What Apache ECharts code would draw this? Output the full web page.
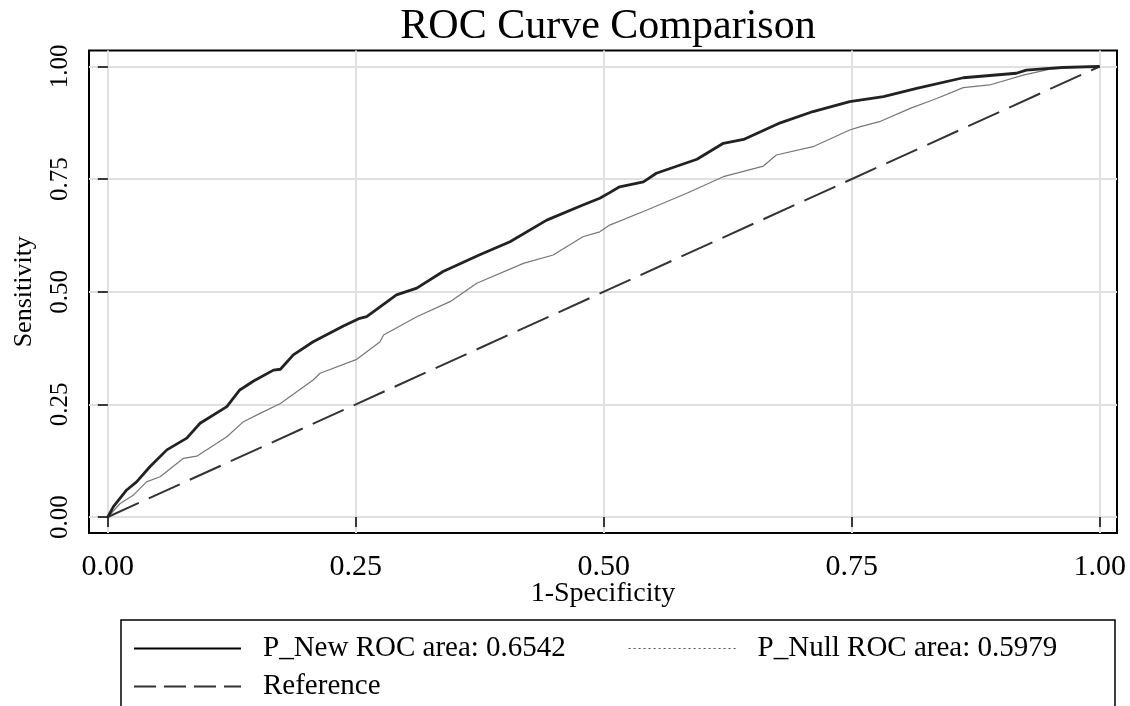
<!DOCTYPE html>
<html><head><meta charset="utf-8">
<script src="https://cdn.jsdelivr.net/npm/echarts@6/dist/echarts.min.js"></script>
<style>html,body{margin:0;padding:0;background:#fff}#c{width:1130px;height:706px}</style>
</head><body><div id="c"></div>
<script>
const titleText = 'ROC Curve Comparison';
const xName = '1-Specificity';
const yName = 'Sensitivity';
const tickValues = [0, 0.25, 0.5, 0.75, 1];
const seriesNames = ['P_New ROC area: 0.6542', 'P_Null ROC area: 0.5979', 'Reference'];

const pNewX = [0, 0.0056, 0.019, 0.029, 0.0426, 0.0595, 0.0796, 0.093, 0.12, 0.133, 0.147, 0.167, 0.174, 0.187, 0.207, 0.2375, 0.254, 0.261, 0.291, 0.3115, 0.338, 0.375, 0.4055, 0.4425, 0.479, 0.496, 0.506, 0.516, 0.54, 0.553, 0.594, 0.6206, 0.641, 0.678, 0.711, 0.748, 0.782, 0.8155, 0.8625, 0.916, 0.926, 0.963, 1];
const pNewY = [0, 0.023, 0.06, 0.078, 0.112, 0.149, 0.175, 0.208, 0.245, 0.282, 0.302, 0.326, 0.328, 0.36, 0.389, 0.424, 0.441, 0.445, 0.493, 0.508, 0.545, 0.582, 0.611, 0.659, 0.6925, 0.7075, 0.72, 0.733, 0.744, 0.763, 0.794, 0.8295, 0.838, 0.875, 0.90, 0.922, 0.933, 0.9516, 0.975, 0.985, 0.992, 0.998, 1];

const pNullX = [0, 0.0124, 0.026, 0.039, 0.0527, 0.076, 0.0897, 0.12, 0.1367, 0.1535, 0.174, 0.207, 0.214, 0.251, 0.2745, 0.278, 0.3115, 0.345, 0.372, 0.419, 0.449, 0.479, 0.496, 0.506, 0.543, 0.5837, 0.6206, 0.661, 0.674, 0.711, 0.748, 0.758, 0.778, 0.809, 0.8357, 0.8625, 0.889, 0.923, 0.95, 1];
const pNullY = [0, 0.030, 0.049, 0.078, 0.0895, 0.130, 0.135, 0.178, 0.2116, 0.230, 0.252, 0.304, 0.319, 0.350, 0.389, 0.404, 0.4446, 0.478, 0.519, 0.563, 0.5816, 0.622, 0.633, 0.648, 0.681, 0.7185, 0.7554, 0.779, 0.8036, 0.822, 0.859, 0.866, 0.8775, 0.907, 0.929, 0.953, 0.959, 0.981, 0.994, 1];

const refX = [0, 1];
const refY = [0, 1];

const zip = (xs, ys) => xs.map((x, i) => [x, ys[i]]);
const FONT = "'Liberation Serif', 'Times New Roman', serif";
const fmt = v => Number(v).toFixed(2);
const legendText = {fontFamily: FONT, fontSize: 29, color: '#000', padding: [0, 0, 0, 17]};

const chart = echarts.init(document.getElementById('c'), null, {renderer: 'canvas'});
chart.setOption({
  animation: false,
  backgroundColor: '#fff',
  textStyle: {fontFamily: FONT, color: '#000'},
  title: {
    text: titleText, left: 603, top: 1, textAlign: 'center',
    textStyle: {fontFamily: FONT, fontSize: 42, fontWeight: 'normal', color: '#000'}
  },
  grid: {left: 89, right: 13, top: 50.5, bottom: 173, show: true, borderColor: '#000', borderWidth: 2, backgroundColor: 'transparent'},
  xAxis: {
    type: 'value', min: -0.019, max: 1.0175,
    name: xName, nameLocation: 'middle', nameGap: 47, nameMoveOverlap: false,
    nameTextStyle: {fontFamily: FONT, fontSize: 28, color: '#000'},
    axisLine: {show: false},
    axisTick: {show: true, customValues: tickValues, length: 10, lineStyle: {color: '#000', width: 1.5}},
    axisLabel: {customValues: tickValues, formatter: fmt, margin: 19, fontFamily: FONT, fontSize: 30, color: '#000'},
    splitLine: {show: true, lineStyle: {color: '#e0e0e0', width: 2}}
  },
  yAxis: {
    type: 'value', min: -0.0355, max: 1.0355,
    name: yName, nameLocation: 'middle', nameGap: 52, nameRotate: 90, nameMoveOverlap: false,
    nameTextStyle: {fontFamily: FONT, fontSize: 26, color: '#000'},
    axisLine: {show: false},
    axisTick: {show: true, customValues: tickValues, length: 10, lineStyle: {color: '#000', width: 1.5}},
    axisLabel: {customValues: tickValues, formatter: fmt, rotate: 90, margin: 16, fontFamily: FONT, fontSize: 25, color: '#000'},
    splitLine: {show: true, lineStyle: {color: '#e0e0e0', width: 2}}
  },
  legend: [
    {data: [{name: seriesNames[0], itemStyle: {opacity: 0}, lineStyle: {color: '#000', width: 2, type: 'solid'}}], left: 133, top: 634, padding: 0, itemWidth: 107, itemHeight: 20, selectedMode: false, textStyle: legendText},
    {data: [{name: seriesNames[1], itemStyle: {opacity: 0}, lineStyle: {color: '#555', width: 1.2, type: [2, 3]}}], left: 628, top: 634, padding: 0, itemWidth: 107, itemHeight: 20, selectedMode: false, textStyle: legendText},
    {data: [{name: seriesNames[2], itemStyle: {opacity: 0}, lineStyle: {color: '#333', width: 2, type: [22, 8]}}], left: 133, top: 672, padding: 0, itemWidth: 107, itemHeight: 20, selectedMode: false, textStyle: legendText}
  ],
  graphic: [{
    type: 'rect', shape: {x: 121, y: 620, width: 994, height: 100},
    style: {fill: 'none', stroke: '#000', lineWidth: 1.5}, silent: true
  }],
  series: [
    {name: seriesNames[2], type: 'line', data: zip(refX, refY), symbol: 'none', z: 2,
     itemStyle: {color: '#333'}, lineStyle: {color: '#333', width: 2, type: [34, 11]}},
    {name: seriesNames[1], type: 'line', data: zip(pNullX, pNullY), symbol: 'none', z: 3,
     itemStyle: {color: '#777'}, lineStyle: {color: '#777', width: 1.2}},
    {name: seriesNames[0], type: 'line', data: zip(pNewX, pNewY), symbol: 'none', z: 4,
     itemStyle: {color: '#222'}, lineStyle: {color: '#222', width: 2.8}}
  ]
});
</script>
</body></html>
